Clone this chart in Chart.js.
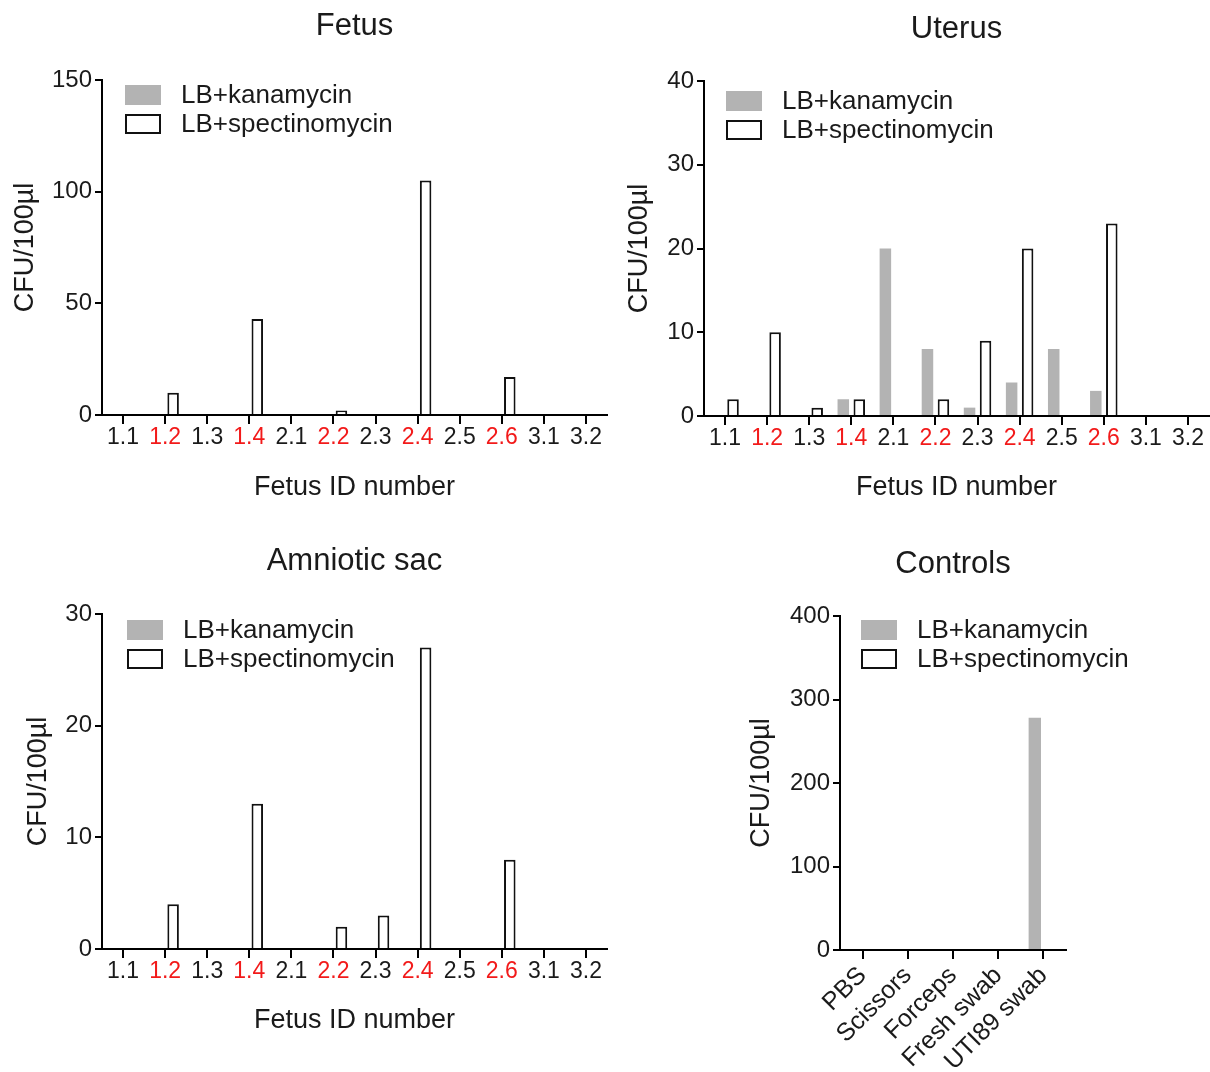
<!DOCTYPE html>
<html>
<head>
<meta charset="utf-8">
<script src="https://cdn.jsdelivr.net/npm/chart.js@4"></script>
<style>
    body { margin: 0; background: #fff; }
    #page { position: relative; width: 1210px; height: 1072px; }
    canvas { position: absolute; }
</style>
</head>
<body>
<div id="page">
    <canvas id="fetusChart" width="610" height="515" style="left:0;top:0"></canvas>
    <canvas id="uterusChart" width="600" height="515" style="left:610px;top:0"></canvas>
    <canvas id="amnioticChart" width="610" height="542" style="left:0;top:530px"></canvas>
    <canvas id="controlsChart" width="600" height="542" style="left:610px;top:530px"></canvas>
</div>
<script>
// Data
const seriesNames = ['LB+kanamycin', 'LB+spectinomycin'];
const fetusIds = ['1.1', '1.2', '1.3', '1.4', '2.1', '2.2', '2.3', '2.4', '2.5', '2.6', '3.1', '3.2'];
const redIds = ['1.2', '1.4', '2.2', '2.4', '2.6'];

const fetusKana = [0, 0, 0, 0, 0, 0, 0, 0, 0, 0, 0, 0];
const fetusSpec = [0, 10, 0, 43, 0, 2, 0, 105, 0, 17, 0, 0];
const fetusTicks = [0, 50, 100, 150];

const uterusKana = [0, 0, 0, 2, 20, 8, 1, 4, 8, 3, 0, 0];
const uterusSpec = [2, 10, 1, 2, 0, 2, 9, 20, 0, 23, 0, 0];
const uterusTicks = [0, 10, 20, 30, 40];

const amnioticKana = [0, 0, 0, 0, 0, 0, 0, 0, 0, 0, 0, 0];
const amnioticSpec = [0, 4, 0, 13, 0, 2, 3, 27, 0, 8, 0, 0];
const amnioticTicks = [0, 10, 20, 30];

const controlNames = ['PBS', 'Scissors', 'Forceps', 'Fresh swab', 'UTI89 swab'];
const controlKana = [0, 0, 0, 0, 278];
const controlSpec = [0, 0, 0, 0, 0];
const controlTicks = [0, 100, 200, 300, 400];

const FONT = "'Liberation Sans', Arial, sans-serif";
const TEXT = '#1a1a1a';
const RED = '#f21a1a';
const GREY = '#b3b3b3';

Chart.defaults.font.family = FONT;
Chart.defaults.color = TEXT;

// legend drawn inside the plot, top-left, like the GraphPad original
const insideLegend = {
    id: 'insideLegend',
    afterDatasetsDraw(chart, args, opts) {
        const { ctx, chartArea } = chart;
        ctx.save();
        ctx.font = `${opts.size}px ${FONT}`;
        ctx.textBaseline = 'middle';
        chart.data.datasets.forEach((ds, i) => {
            const x = chartArea.left + opts.x;
            const y = chartArea.top + opts.y + i * 29;
            ctx.fillStyle = ds.backgroundColor;
            ctx.fillRect(x, y, 36, 20);
            if (ds.borderWidth) {
                ctx.lineWidth = 2;
                ctx.strokeStyle = ds.borderColor;
                ctx.strokeRect(x + 1, y + 1, 34, 18);
            }
            ctx.fillStyle = TEXT;
            ctx.fillText(ds.label, x + 56, y + 11);
        });
        ctx.restore();
    }
};

function buildPanel(id, title, labels, kana, spec, yTicks, g) {
    return new Chart(document.getElementById(id), {
        type: 'bar',
        data: {
            labels: labels,
            datasets: [
                { label: seriesNames[0], data: kana, backgroundColor: GREY, borderWidth: 0 },
                { label: seriesNames[1], data: spec, backgroundColor: '#ffffff', borderColor: '#111', borderWidth: 2 }
            ]
        },
        options: {
            responsive: false,
            animation: false,
            devicePixelRatio: 1,
            categoryPercentage: 0.76,
            barPercentage: 0.72,
            layout: { padding: { left: g.padLeft, right: g.padRight, top: 0, bottom: 0 } },
            plugins: {
                legend: { display: false },
                tooltip: { enabled: false },
                title: {
                    display: true,
                    text: title,
                    fullSize: false,
                    color: TEXT,
                    font: { size: 31, weight: 'normal' },
                    padding: { top: g.titleTop, bottom: g.titleBottom }
                },
                insideLegend: { x: g.legX, y: g.legY, size: 26 }
            },
            scales: {
                x: {
                    grid: { drawOnChartArea: false, offset: false, color: '#000', lineWidth: 2, tickLength: 9 },
                    border: { color: '#000', width: 2 },
                    ticks: {
                        autoSkip: false,
                        maxRotation: g.rot,
                        minRotation: g.rot,
                        padding: g.xTickPad,
                        font: { size: g.xTickSize },
                        color: (c) => redIds.includes(labels[c.index]) ? RED : TEXT
                    },
                    title: {
                        display: !!g.xTitle,
                        text: g.xTitle,
                        color: TEXT,
                        font: { size: 27 },
                        padding: { top: 0, bottom: g.xTitlePad }
                    },
                    afterFit: (s) => { s.height = g.xHeight; }
                },
                y: {
                    min: yTicks[0],
                    max: yTicks[yTicks.length - 1],
                    grid: { drawOnChartArea: false, color: '#000', lineWidth: 2, tickLength: 7 },
                    border: { color: '#000', width: 2 },
                    ticks: {
                        stepSize: yTicks[1] - yTicks[0],
                        padding: 3,
                        font: { size: 24 },
                        color: TEXT
                    },
                    title: {
                        display: true,
                        text: 'CFU/100µl',
                        color: TEXT,
                        font: { size: 27 },
                        padding: { top: g.yTitlePad, bottom: 0 }
                    },
                    afterFit: (s) => { s.width = g.yWidth; }
                }
            }
        },
        plugins: [insideLegend]
    });
}

buildPanel('fetusChart', 'Fetus', fetusIds, fetusKana, fetusSpec, fetusTicks, {
    padLeft: 0, padRight: 3, yWidth: 102, titleTop: 8, titleBottom: 34.8,
    xHeight: 100, xTickSize: 23, xTickPad: 0,
    xTitle: 'Fetus ID number', xTitlePad: 10.8, yTitlePad: 9.8, legX: 23, legY: 5, rot: 0
});

buildPanel('uterusChart', 'Uterus', fetusIds, uterusKana, uterusSpec, uterusTicks, {
    padLeft: 0, padRight: 1, yWidth: 94, titleTop: 10.4, titleBottom: 33.4,
    xHeight: 99, xTickSize: 23, xTickPad: 0,
    xTitle: 'Fetus ID number', xTitlePad: 10.8, yTitlePad: 13.8, legX: 22, legY: 10, rot: 0
});

buildPanel('amnioticChart', 'Amniotic sac', fetusIds, amnioticKana, amnioticSpec, amnioticTicks, {
    padLeft: 0, padRight: 3, yWidth: 102, titleTop: 12.4, titleBottom: 34.4,
    xHeight: 123, xTickSize: 23, xTickPad: 0,
    xTitle: 'Fetus ID number', xTitlePad: 34.8, yTitlePad: 22.8, legX: 25, legY: 6, rot: 0
});

buildPanel('controlsChart', 'Controls', controlNames, controlKana, controlSpec, controlTicks, {
    padLeft: 135, padRight: 144, yWidth: 95, titleTop: 15.4, titleBottom: 33.4,
    xHeight: 122, xTickSize: 25, xTickPad: 2,
    xTitle: '', xTitlePad: 0, yTitlePad: 0.8, legX: 21, legY: 4, rot: 45
});
</script>
</body>
</html>
